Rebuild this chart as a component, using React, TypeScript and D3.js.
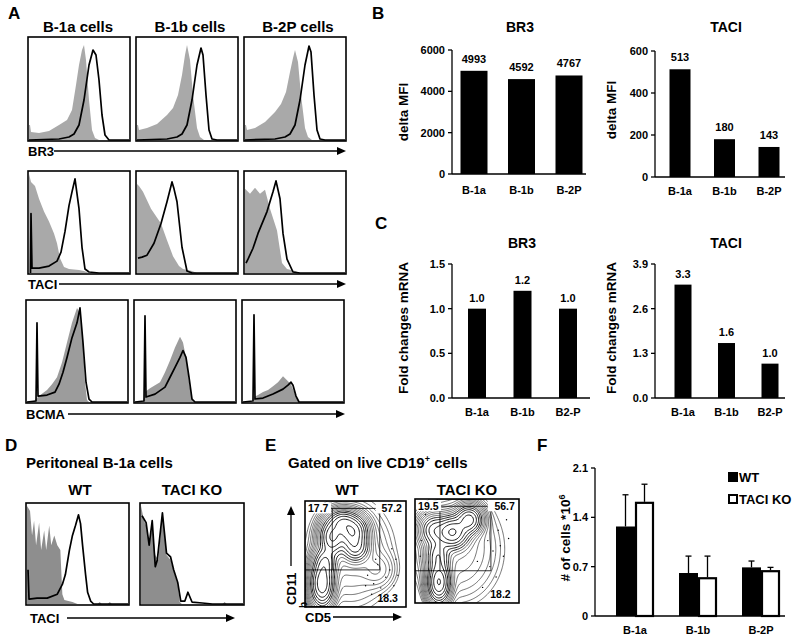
import React from "react";
import * as d3 from "d3";

const FONT = "'Liberation Sans', Arial, Helvetica, sans-serif";

// ---------- Panel A / D histogram data (x: 0..1 fluorescence, y: 0..1 relative count) ----------
const br3Iso1a = [[0,0.15],[0.01,0.15],[0.02,0.08],[0.1,0.07],[0.2,0.09],[0.3,0.15],[0.38,0.2],[0.43,0.3],[0.47,0.55],[0.5,0.75],[0.53,0.9],[0.55,0.95],[0.57,0.8],[0.6,0.4],[0.63,0.1],[0.66,0.02],[0.7,0]];
const br3Stain1a = [[0,0],[0.3,0.01],[0.4,0.03],[0.45,0.06],[0.5,0.15],[0.55,0.4],[0.6,0.75],[0.64,0.9],[0.67,0.85],[0.7,0.6],[0.73,0.25],[0.76,0.05],[0.8,0],[1,0]];
const br3Iso1b = [[0,0.15],[0.01,0.15],[0.02,0.1],[0.1,0.12],[0.2,0.16],[0.3,0.25],[0.36,0.32],[0.41,0.45],[0.45,0.65],[0.48,0.85],[0.5,0.95],[0.53,0.8],[0.56,0.45],[0.6,0.12],[0.63,0.03],[0.67,0]];
const br3Stain1b = [[0,0],[0.3,0.01],[0.4,0.03],[0.45,0.06],[0.5,0.15],[0.55,0.4],[0.6,0.75],[0.64,0.92],[0.66,0.85],[0.69,0.45],[0.72,0.1],[0.75,0.01],[0.8,0],[1,0]];
const br3Iso2p = [[0,0.15],[0.01,0.15],[0.02,0.1],[0.1,0.12],[0.2,0.18],[0.3,0.28],[0.36,0.36],[0.41,0.48],[0.45,0.68],[0.48,0.82],[0.5,0.9],[0.53,0.78],[0.56,0.45],[0.6,0.12],[0.63,0.03],[0.67,0]];
const br3Stain2p = [[0,0],[0.3,0.01],[0.4,0.03],[0.45,0.06],[0.5,0.15],[0.55,0.4],[0.6,0.75],[0.64,0.94],[0.66,0.88],[0.69,0.45],[0.72,0.1],[0.75,0.01],[0.8,0],[1,0]];

const taciIso1a = [[0,1],[0.02,0.92],[0.06,0.88],[0.1,0.75],[0.15,0.62],[0.2,0.52],[0.25,0.4],[0.28,0.3],[0.31,0.15],[0.35,0.06],[0.4,0.04],[0.5,0.03],[0.55,0.02],[0.6,0]];
const taciStain1a = [[0.015,0],[0.02,0.6],[0.03,0.05],[0.1,0.05],[0.2,0.07],[0.28,0.12],[0.32,0.21],[0.36,0.42],[0.4,0.68],[0.43,0.82],[0.46,0.95],[0.5,0.65],[0.53,0.26],[0.56,0.04],[0.6,0.01],[0.7,0],[1,0]];
const taciIso1b = [[0,0.9],[0.02,0.88],[0.06,0.82],[0.14,0.65],[0.24,0.5],[0.3,0.33],[0.36,0.17],[0.42,0.07],[0.46,0.04],[0.55,0.02],[0.6,0]];
const taciStain1b = [[0.01,0.15],[0.05,0.16],[0.1,0.18],[0.17,0.3],[0.24,0.5],[0.3,0.72],[0.35,0.92],[0.37,0.85],[0.4,0.72],[0.45,0.26],[0.5,0.02],[0.55,0],[1,0]];
const taciIso2p = [[0,0.85],[0.05,0.8],[0.1,0.86],[0.15,0.8],[0.2,0.84],[0.25,0.65],[0.32,0.43],[0.37,0.1],[0.42,0.04],[0.5,0.02],[0.55,0]];
const taciStain2p = [[0.01,0.1],[0.03,0.14],[0.08,0.25],[0.13,0.4],[0.22,0.62],[0.28,0.82],[0.31,0.93],[0.35,0.75],[0.38,0.4],[0.42,0.14],[0.48,0.01],[0.55,0],[1,0]];

const bcmaIso1a = [[0.05,0],[0.08,0.02],[0.12,0.06],[0.2,0.12],[0.25,0.18],[0.3,0.25],[0.35,0.4],[0.4,0.6],[0.45,0.8],[0.5,0.95],[0.53,0.9],[0.56,0.6],[0.58,0.2],[0.6,0.02],[0.62,0]];
const bcmaStain1a = [[0,0],[0.09,0.01],[0.1,0.8],[0.11,0.06],[0.2,0.07],[0.28,0.1],[0.32,0.18],[0.36,0.3],[0.4,0.45],[0.45,0.65],[0.5,0.8],[0.53,0.95],[0.56,0.6],[0.59,0.2],[0.62,0.03],[0.65,0],[1,0]];
const bcmaIso1b = [[0.08,0],[0.1,0.1],[0.15,0.14],[0.2,0.17],[0.25,0.2],[0.3,0.3],[0.35,0.42],[0.4,0.55],[0.45,0.66],[0.48,0.6],[0.51,0.45],[0.54,0.2],[0.57,0.02],[0.6,0]];
const bcmaStain1b = [[0,0],[0.09,0.01],[0.1,0.87],[0.11,0.05],[0.2,0.08],[0.3,0.15],[0.35,0.25],[0.4,0.35],[0.45,0.45],[0.48,0.52],[0.51,0.45],[0.54,0.25],[0.57,0.03],[0.6,0],[1,0]];
const bcmaIso2p = [[0.1,0],[0.11,0.05],[0.15,0.07],[0.2,0.1],[0.25,0.12],[0.3,0.16],[0.35,0.2],[0.4,0.26],[0.44,0.22],[0.48,0.18],[0.52,0.08],[0.55,0.01],[0.57,0]];
const bcmaStain2p = [[0,0],[0.1,0.01],[0.11,0.88],[0.12,0.03],[0.2,0.04],[0.3,0.08],[0.4,0.13],[0.45,0.17],[0.48,0.2],[0.5,0.17],[0.53,0.06],[0.56,0],[1,0]];

const dIsoWT = [[0,1],[0.03,0.95],[0.05,0.7],[0.07,0.85],[0.09,0.6],[0.12,0.83],[0.14,0.55],[0.17,0.75],[0.19,0.55],[0.22,0.8],[0.24,0.6],[0.27,0.7],[0.3,0.6],[0.33,0.55],[0.35,0.1],[0.37,0.04],[0.45,0.02],[0.5,0],[0.7,0],[0.72,0.02],[0.74,0],[0.8,0],[0.82,0.02],[0.84,0]];
const dStainWT = [[0.01,0.35],[0.02,0.05],[0.1,0.06],[0.2,0.06],[0.3,0.1],[0.35,0.2],[0.38,0.3],[0.42,0.55],[0.45,0.7],[0.48,0.8],[0.51,0.91],[0.53,0.82],[0.55,0.6],[0.58,0.3],[0.6,0.12],[0.63,0.03],[0.66,0],[1,0]];
const dIsoKO = [[0,1],[0.03,0.85],[0.05,0.8],[0.08,0.6],[0.11,0.8],[0.14,0.5],[0.17,0.45],[0.21,0.9],[0.25,0.5],[0.29,0.45],[0.33,0.3],[0.36,0.2],[0.38,0.02],[0.4,0],[0.8,0],[0.82,0.02],[0.84,0]];
const dStainKO = [[0.01,0.9],[0.05,0.83],[0.08,0.6],[0.11,0.85],[0.14,0.38],[0.16,0.45],[0.21,0.93],[0.25,0.52],[0.29,0.48],[0.32,0.35],[0.36,0.22],[0.39,0.03],[0.43,0.03],[0.46,0.12],[0.5,0.02],[0.6,0.01],[0.7,0],[1,0]];

// ---------- Panel B / C / F bar data ----------
const cellsB = ["B-1a", "B-1b", "B-2P"];
const cellsC = ["B-1a", "B-1b", "B2-P"];
const br3MFI = [4993, 4592, 4767];
const br3MFITicks = [0, 2000, 4000, 6000];
const taciMFI = [513, 180, 143];
const taciMFITicks = [0, 200, 400, 600];
const br3mRNA = [1.0, 1.2, 1.0];
const br3mRNATicks = [0.0, 0.5, 1.0, 1.5];
const taciMRNA = [3.3, 1.6, 1.0];
const taciMRNATicks = [0.0, 1.3, 2.6, 3.9];
const fWT = [1.27, 0.61, 0.69];
const fWTErr = [0.45, 0.24, 0.09];
const fKO = [1.62, 0.55, 0.65];
const fKOErr = [0.25, 0.3, 0.04];
const fTicks = [0, 0.7, 1.4, 2.1];

// ---------- Panel E contour blob data (x, y in 0..1, y up) ----------
const wtBlobs = [
  { cx: 0.17, cy: 0.22, sx: 0.06, sy: 0.11, w: 1.0 },
  { cx: 0.2, cy: 0.42, sx: 0.06, sy: 0.08, w: 0.45 },
  { cx: 0.27, cy: 0.66, sx: 0.065, sy: 0.09, w: 0.75 },
  { cx: 0.37, cy: 0.8, sx: 0.07, sy: 0.06, w: 0.6 },
  { cx: 0.47, cy: 0.71, sx: 0.075, sy: 0.08, w: 1.0 },
  { cx: 0.5, cy: 0.56, sx: 0.07, sy: 0.07, w: 0.5 },
  { cx: 0.45, cy: 0.5, sx: 0.22, sy: 0.27, w: 0.05 },
  { cx: 0.72, cy: 0.35, sx: 0.09, sy: 0.09, w: 0.04 },
];
const koBlobs = [
  { cx: 0.23, cy: 0.2, sx: 0.055, sy: 0.1, w: 1.0 },
  { cx: 0.22, cy: 0.45, sx: 0.06, sy: 0.09, w: 0.4 },
  { cx: 0.18, cy: 0.7, sx: 0.07, sy: 0.08, w: 0.35 },
  { cx: 0.36, cy: 0.68, sx: 0.08, sy: 0.08, w: 1.0 },
  { cx: 0.52, cy: 0.8, sx: 0.065, sy: 0.07, w: 0.8 },
  { cx: 0.4, cy: 0.52, sx: 0.22, sy: 0.27, w: 0.05 },
];
const wtDots = [[0.62,0.3],[0.68,0.22],[0.72,0.4],[0.75,0.18],[0.8,0.28],[0.84,0.35],[0.88,0.2],[0.9,0.45],[0.66,0.12],[0.78,0.1],[0.6,0.2],[0.86,0.55],[0.7,0.45],[0.92,0.3]];
const koDots = [[0.7,0.6],[0.75,0.5],[0.8,0.7],[0.85,0.45],[0.9,0.62],[0.06,0.6],[0.05,0.45],[0.72,0.35],[0.78,0.25],[0.65,0.15],[0.82,0.55],[0.88,0.8],[0.1,0.85],[0.6,0.4]];

type Pt = number[];

function Histogram({ x, y, w, h, iso, stain, isoColor }: { x: number; y: number; w: number; h: number; iso: Pt[]; stain: Pt[]; isoColor: string }) {
  const sx = d3.scaleLinear().domain([0, 1]).range([x + 1, x + w - 1]);
  const sy = d3.scaleLinear().domain([0, 1]).range([y + h - 1, y + 3]);
  const area = d3.area<Pt>().x((d) => sx(d[0])).y0(sy(0)).y1((d) => sy(d[1]));
  const line = d3.line<Pt>().x((d) => sx(d[0])).y((d) => sy(d[1]));
  return (
    <g>
      <path d={area(iso) || ""} fill={isoColor} stroke="none" />
      <path d={line(stain) || ""} fill="none" stroke="#000" strokeWidth={1.7} strokeLinejoin="round" />
      <rect x={x} y={y} width={w} height={h} fill="none" stroke="#000" strokeWidth={1.6} />
    </g>
  );
}

function Arrow({ x1, x2, y, label, labelX }: { x1: number; x2: number; y: number; label: string; labelX: number }) {
  return (
    <g>
      <text x={labelX} y={y + 4.5} fontSize={13} fontWeight="bold" fontFamily={FONT}>{label}</text>
      <line x1={x1} x2={x2 - 8} y1={y} y2={y} stroke="#000" strokeWidth={1.3} />
      <path d={`M${x2},${y} L${x2 - 9},${y - 4} L${x2 - 9},${y + 4} Z`} fill="#000" />
    </g>
  );
}

function BarChart({ cats, vals, ticks, axisX, axisEnd, y0, y1, centers, barW, title, titleX, titleY, ylabel, ylabelX, ylabelY, fmt, tickFmt, labelY, labelGap }: any) {
  const ys = d3.scaleLinear().domain([ticks[0], ticks[ticks.length - 1]]).range([y0, y1]);
  const xs = d3.scalePoint<string>().domain(cats).range(centers);
  return (
    <g fontFamily={FONT} fontWeight="bold">
      <text x={titleX} y={titleY} fontSize={14} textAnchor="middle">{title}</text>
      <text transform={`translate(${ylabelX},${ylabelY}) rotate(-90)`} fontSize={13.5} textAnchor="middle">{ylabel}</text>
      {cats.map((c: string, i: number) => (
        <g key={c}>
          <rect x={(xs(c) as number) - barW / 2} y={ys(vals[i])} width={barW} height={y0 - ys(vals[i])} fill="#000" />
          <text x={xs(c)} y={ys(vals[i]) - labelGap} fontSize={11} textAnchor="middle">{fmt(vals[i])}</text>
          <text x={xs(c)} y={labelY} fontSize={11} textAnchor="middle">{c}</text>
        </g>
      ))}
      <line x1={axisX} x2={axisX} y1={y0} y2={y1} stroke="#000" strokeWidth={1.3} />
      <line x1={axisX} x2={axisEnd} y1={y0} y2={y0} stroke="#000" strokeWidth={1.3} />
      {ticks.map((t: number) => (
        <g key={t}>
          <line x1={axisX - 4} x2={axisX} y1={ys(t)} y2={ys(t)} stroke="#000" strokeWidth={1.3} />
          <text x={axisX - 7} y={ys(t) + 4} fontSize={11} textAnchor="end">{tickFmt(t)}</text>
        </g>
      ))}
    </g>
  );
}

function ContourPlot({ id, x, y, w, h, blobs, dots, vx, hy, gateRight, gateTop, labels }: any) {
  const nx = 90, ny = 90;
  const values = new Array(nx * ny);
  for (let j = 0; j < ny; j++) {
    for (let i = 0; i < nx; i++) {
      const px = (i + 0.5) / nx, py = 1 - (j + 0.5) / ny;
      let v = 0;
      for (const b of blobs) {
        const dx = (px - b.cx) / b.sx, dy = (py - b.cy) / b.sy;
        v += b.w * Math.exp(-0.5 * (dx * dx + dy * dy));
      }
      values[j * nx + i] = v;
    }
  }
  const mx = d3.max(values) as number;
  const ths = d3.range(0, 15).map((k) => mx * 0.93 * Math.pow(0.69, k));
  const contours = d3.contours().size([nx, ny]).thresholds(ths)(values);
  const tr = d3.geoTransform({
    point(px: number, py: number) {
      (this as any).stream.point(x + (px * w) / nx, y + (py * h) / ny);
    },
  });
  const path = d3.geoPath(tr);
  const sx = d3.scaleLinear().domain([0, 1]).range([x, x + w]);
  const sy = d3.scaleLinear().domain([0, 1]).range([y + h, y]);
  return (
    <g>
      <defs>
        <clipPath id={id}><rect x={x} y={y} width={w} height={h} /></clipPath>
      </defs>
      <g clipPath={`url(#${id})`}>
        {contours.map((c, k) => (
          <path key={k} d={path(c as any) || ""} fill="none" stroke="#000" strokeWidth={k > 8 ? 0.9 : 0.55} />
        ))}
        {dots.map((d: number[], k: number) => (
          <circle key={k} cx={sx(d[0])} cy={sy(d[1])} r={0.7} fill="#000" />
        ))}
      </g>
      <line x1={sx(vx)} x2={sx(vx)} y1={sy(gateTop)} y2={sy(hy)} stroke="#000" strokeWidth={0.8} />
      <line x1={sx(0)} x2={sx(gateRight)} y1={sy(hy)} y2={sy(hy)} stroke="#000" strokeWidth={0.8} />
      <line x1={sx(gateRight)} x2={sx(gateRight)} y1={sy(gateTop)} y2={sy(hy)} stroke="#000" strokeWidth={0.8} />
      <line x1={sx(0.24)} x2={sx(0.75)} y1={sy(gateTop)} y2={sy(gateTop)} stroke="#000" strokeWidth={0.8} />
      <g fontFamily={FONT} fontWeight="bold" fontSize={10.5}>
        <rect x={sx(0.02)} y={sy(gateTop) - 6} width={24} height={11} fill="#fff" />
        <text x={sx(0.03)} y={sy(gateTop) + 4}>{labels[0]}</text>
        <rect x={sx(0.7)} y={sy(gateTop) - 6} width={24} height={11} fill="#fff" />
        <text x={sx(0.96)} y={sy(gateTop) + 4} textAnchor="end">{labels[1]}</text>
        <text x={sx(0.92)} y={sy(0.05)} textAnchor="end">{labels[2]}</text>
      </g>
      <rect x={x} y={y} width={w} height={h} fill="none" stroke="#000" strokeWidth={1.6} />
    </g>
  );
}

export default function App() {
  const rowA = [
    { y: 37, h: 104, data: [[br3Iso1a, br3Stain1a], [br3Iso1b, br3Stain1b], [br3Iso2p, br3Stain2p]], xs: [28, 136, 244], color: "#a9a9a9" },
    { y: 171, h: 103, data: [[taciIso1a, taciStain1a], [taciIso1b, taciStain1b], [taciIso2p, taciStain2p]], xs: [28, 136, 244], color: "#a9a9a9" },
    { y: 300, h: 103, data: [[bcmaIso1a, bcmaStain1a], [bcmaIso1b, bcmaStain1b], [bcmaIso2p, bcmaStain2p]], xs: [26, 134, 242], color: "#9c9c9c" },
  ];
  const letter = (t: string, x: number, y: number) => (
    <text x={x} y={y} fontSize={17} fontWeight="bold" fontFamily={FONT}>{t}</text>
  );
  const fy = d3.scaleLinear().domain([0, 2.1]).range([616, 468]);
  const fx = d3.scalePoint<string>().domain(cellsB).range([635, 761]);
  const fbw = 19;
  return (
    <svg width={800} height={640} style={{ position: "absolute", left: 0, top: 0, background: "#fff" }}>
      <rect width={800} height={640} fill="#fff" />
      {/* Panel A */}
      {letter("A", 8, 19)}
      <g fontFamily={FONT} fontWeight="bold" fontSize={15} textAnchor="middle">
        <text x={78} y={32}>B-1a cells</text>
        <text x={190} y={32}>B-1b cells</text>
        <text x={298} y={32}>B-2P cells</text>
      </g>
      {rowA.map((r, ri) =>
        r.data.map((d, ci) => (
          <Histogram key={`${ri}-${ci}`} x={r.xs[ci]} y={r.y} w={102} h={r.h} iso={d[0]} stain={d[1]} isoColor={r.color} />
        ))
      )}
      <Arrow labelX={28} x1={54} x2={346} y={151} label="BR3" />
      <Arrow labelX={28} x1={59} x2={346} y={284} label="TACI" />
      <Arrow labelX={26} x1={68} x2={345} y={414} label="BCMA" />

      {/* Panel B */}
      {letter("B", 372, 19)}
      <BarChart cats={cellsB} vals={br3MFI} ticks={br3MFITicks} axisX={452} axisEnd={586} y0={174} y1={50} centers={[474, 569]} barW={27}
        title="BR3" titleX={520} titleY={32} ylabel="delta MFI" ylabelX={408} ylabelY={112} fmt={(v: number) => String(v)} tickFmt={(v: number) => String(v)} labelY={194} labelGap={8} />
      <BarChart cats={cellsB} vals={taciMFI} ticks={taciMFITicks} axisX={655} axisEnd={785} y0={177} y1={51} centers={[680, 769]} barW={21}
        title="TACI" titleX={726} titleY={32} ylabel="delta MFI" ylabelX={616} ylabelY={110} fmt={(v: number) => String(v)} tickFmt={(v: number) => String(v)} labelY={195} labelGap={8} />

      {/* Panel C */}
      {letter("C", 375, 229)}
      <BarChart cats={cellsC} vals={br3mRNA} ticks={br3mRNATicks} axisX={452} axisEnd={590} y0={398} y1={264} centers={[477, 568]} barW={18}
        title="BR3" titleX={522} titleY={248} ylabel="Fold changes mRNA" ylabelX={408} ylabelY={328} fmt={(v: number) => v.toFixed(1)} tickFmt={(v: number) => v.toFixed(1)} labelY={416} labelGap={7} />
      <BarChart cats={cellsC} vals={taciMRNA} ticks={taciMRNATicks} axisX={655} axisEnd={785} y0={398} y1={264} centers={[683, 770]} barW={17}
        title="TACI" titleX={726} titleY={248} ylabel="Fold changes mRNA" ylabelX={616} ylabelY={328} fmt={(v: number) => v.toFixed(1)} tickFmt={(v: number) => v.toFixed(1)} labelY={416} labelGap={7} />

      {/* Panel D */}
      {letter("D", 5, 451)}
      <g fontFamily={FONT} fontWeight="bold" fontSize={15}>
        <text x={26} y={468}>Peritoneal B-1a cells</text>
        <text x={80} y={495} textAnchor="middle">WT</text>
        <text x={192} y={495} textAnchor="middle">TACI KO</text>
      </g>
      <Histogram x={26} y={503} w={103} h={102} iso={dIsoWT} stain={dStainWT} isoColor="#8e8e8e" />
      <Histogram x={140} y={503} w={104} h={102} iso={dIsoKO} stain={dStainKO} isoColor="#8e8e8e" />
      <Arrow labelX={30} x1={67} x2={235} y={618} label="TACI" />

      {/* Panel E */}
      {letter("E", 265, 451)}
      <g fontFamily={FONT} fontWeight="bold" fontSize={15}>
        <text x={288} y={468}>Gated on live CD19<tspan dy={-6} fontSize={9}>+</tspan><tspan dy={6}> cells</tspan></text>
        <text x={347} y={495} textAnchor="middle">WT</text>
        <text x={467} y={495} textAnchor="middle">TACI KO</text>
      </g>
      <ContourPlot id="cwt" x={305} y={501} w={101} h={106} blobs={wtBlobs} dots={wtDots} vx={0.27} hy={0.35} gateRight={0.74} gateTop={0.93} labels={["17.7", "57.2", "18.3"]} />
      <ContourPlot id="cko" x={415} y={499} w={104} h={104} blobs={koBlobs} dots={koDots} vx={0.24} hy={0.31} gateRight={0.73} gateTop={0.93} labels={["19.5", "56.7", "18.2"]} />
      <g fontFamily={FONT} fontWeight="bold" fontSize={13}>
        <line x1={291} x2={291} y1={566} y2={514} stroke="#000" strokeWidth={1.3} />
        <path d="M291,506 L287,515 L295,515 Z" fill="#000" />
        <text transform="translate(296,605) rotate(-90)">CD11</text>
        <text transform="translate(307,608) rotate(-90)" fontSize={10}>b</text>
      </g>
      <Arrow labelX={305} x1={333} x2={402} y={617} label="CD5" />

      {/* Panel F */}
      {letter("F", 537, 451)}
      <g fontFamily={FONT} fontWeight="bold">
        <text transform="translate(570,538) rotate(-90)" fontSize={13.5} textAnchor="middle"># of cells *10<tspan dy={-5} fontSize={9}>6</tspan></text>
        {cellsB.map((c, i) => {
          const cx = fx(c) as number;
          return (
            <g key={c}>
              <line x1={cx - fbw / 2} x2={cx - fbw / 2} y1={fy(fWT[i])} y2={fy(fWT[i] + fWTErr[i])} stroke="#000" strokeWidth={1.3} />
              <line x1={cx - fbw / 2 - 3} x2={cx - fbw / 2 + 3} y1={fy(fWT[i] + fWTErr[i])} y2={fy(fWT[i] + fWTErr[i])} stroke="#000" strokeWidth={1.3} />
              <line x1={cx + fbw / 2} x2={cx + fbw / 2} y1={fy(fKO[i])} y2={fy(fKO[i] + fKOErr[i])} stroke="#000" strokeWidth={1.3} />
              <line x1={cx + fbw / 2 - 3} x2={cx + fbw / 2 + 3} y1={fy(fKO[i] + fKOErr[i])} y2={fy(fKO[i] + fKOErr[i])} stroke="#000" strokeWidth={1.3} />
              <rect x={cx - fbw} y={fy(fWT[i])} width={fbw} height={616 - fy(fWT[i])} fill="#000" />
              <rect x={cx + 1} y={fy(fKO[i]) + 1} width={fbw - 2} height={616 - fy(fKO[i]) - 1} fill="#fff" stroke="#000" strokeWidth={2.2} />
              <text x={cx} y={634} fontSize={11} textAnchor="middle">{c}</text>
            </g>
          );
        })}
        <line x1={595} x2={595} y1={616} y2={468} stroke="#000" strokeWidth={1.3} />
        <line x1={595} x2={785} y1={616} y2={616} stroke="#000" strokeWidth={1.3} />
        {fTicks.map((t) => (
          <g key={t}>
            <line x1={591} x2={595} y1={fy(t)} y2={fy(t)} stroke="#000" strokeWidth={1.3} />
            <text x={588} y={fy(t) + 4} fontSize={11} textAnchor="end">{t === 0 ? "0" : t.toFixed(1)}</text>
          </g>
        ))}
        <rect x={728} y={472} width={10} height={10} fill="#000" />
        <text x={739} y={482} fontSize={13}>WT</text>
        <rect x={729} y={495} width={8} height={8} fill="#fff" stroke="#000" strokeWidth={2} />
        <text x={739} y={504} fontSize={13}>TACI KO</text>
      </g>
    </svg>
  );
}
